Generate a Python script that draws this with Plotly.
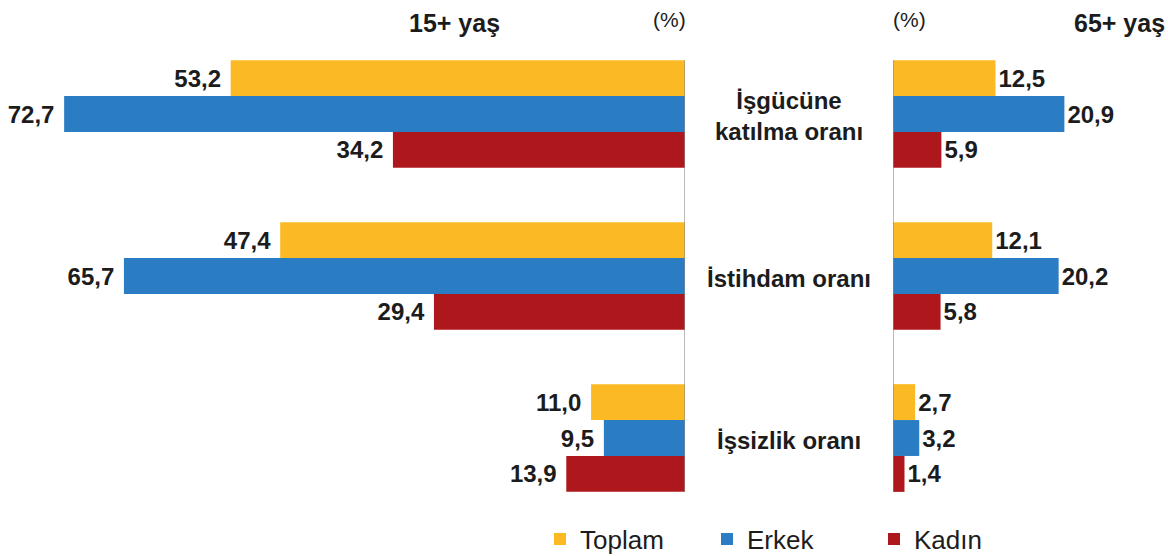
import plotly.graph_objects as go

W, H = 1168, 556

categories = ["İşgücüne<br>katılma oranı", "İstihdam oranı", "İşsizlik oranı"]
series_names = ["Toplam", "Erkek", "Kadın"]
series_colors = ["#FBBA24", "#2A7DC3", "#AE181C"]

age15_toplam = [53.2, 47.4, 11.0]
age15_erkek = [72.7, 65.7, 9.5]
age15_kadin = [34.2, 29.4, 13.9]

age65_toplam = [12.5, 12.1, 2.7]
age65_erkek = [20.9, 20.2, 3.2]
age65_kadin = [5.9, 5.8, 1.4]

left_vals = [age15_toplam, age15_erkek, age15_kadin]
right_vals = [age65_toplam, age65_erkek, age65_kadin]


def fmt(v):
    return f"{v:.1f}".replace(".", ",")


FONT = "Liberation Sans, Arial, sans-serif"
TXT = "#1c1c1c"
VAL_SIZE = 24
BARGAP = 0.335

fig = go.Figure()
for name, col, vals in zip(series_names, series_colors, left_vals):
    fig.add_trace(go.Bar(
        y=categories, x=vals, orientation="h", name=name,
        marker=dict(color=col, line=dict(width=0)),
        text=[fmt(v) + "\u00a0" for v in vals], textposition="outside",
        textfont=dict(family=FONT, size=VAL_SIZE, color=TXT, weight="bold"),
        cliponaxis=False, constraintext="none", hoverinfo="skip",
        xaxis="x", yaxis="y", legendgroup=name, showlegend=True,
    ))
for name, col, vals in zip(series_names, series_colors, right_vals):
    fig.add_trace(go.Bar(
        y=categories, x=vals, orientation="h", name=name,
        marker=dict(color=col, line=dict(width=0)),
        text=[fmt(v) for v in vals], textposition="outside",
        textfont=dict(family=FONT, size=VAL_SIZE, color=TXT, weight="bold"),
        cliponaxis=False, constraintext="none", hoverinfo="skip",
        xaxis="x2", yaxis="y2", legendgroup=name, showlegend=False,
    ))

left_px, right_px = 685, 893
ydom = [1 - 519 / H, 1 - 33 / H]

fig.update_layout(
    width=W, height=H,
    margin=dict(l=0, r=0, t=0, b=0, autoexpand=False),
    paper_bgcolor="white", plot_bgcolor="white",
    barmode="group", bargap=BARGAP, bargroupgap=0,
    font=dict(family=FONT, color=TXT),
    xaxis=dict(domain=[0, left_px / W], range=[left_px / 8.54, 0],
               visible=False, fixedrange=True),
    xaxis2=dict(domain=[right_px / W, 1], range=[0, (W - right_px) / 8.2],
                visible=False, anchor="y2", fixedrange=True),
    yaxis=dict(domain=ydom, autorange="reversed", visible=False, anchor="x", fixedrange=True),
    yaxis2=dict(domain=ydom, matches="y", visible=False, anchor="x2", fixedrange=True),
    legend=dict(orientation="h", x=540 / W, xanchor="left", y=1 - 539 / H, yanchor="middle",
                font=dict(family=FONT, size=26, color=TXT),
                entrywidth=122, traceorder="normal", itemwidth=30,
                bgcolor="rgba(0,0,0,0)"),
    showlegend=True,
)

# vertical axis lines at zero
y_top = -0.5 + BARGAP / 2
y_bot = len(categories) - 0.5 - BARGAP / 2
for xr, yr in (("x", "y"), ("x2", "y2")):
    fig.add_shape(type="line", xref=xr, yref=yr, x0=0, x1=0, y0=y_top, y1=y_bot,
                  line=dict(color="#8a8a8a", width=1.2))

# category labels
for c in categories:
    fig.add_annotation(x=(left_px + right_px) / 2 / W, xref="paper", y=c, yref="y",
                       xanchor="center", yanchor="middle", yshift=-2,
                       text=c, showarrow=False,
                       font=dict(family=FONT, size=24, color=TXT, weight="bold"))

# titles
fig.add_annotation(x=454 / W, y=1 - 23 / H, xref="paper", yref="paper", text="15+ yaş",
                   xanchor="center", yanchor="middle", showarrow=False,
                   font=dict(family=FONT, size=25, color=TXT, weight="bold"))
fig.add_annotation(x=1167 / W, y=1 - 23 / H, xref="paper", yref="paper", text="65+ yaş",
                   xanchor="right", yanchor="middle", showarrow=False,
                   font=dict(family=FONT, size=25, color=TXT, weight="bold"))
fig.add_annotation(x=669 / W, y=1 - 19 / H, xref="paper", yref="paper", text="(%)",
                   xanchor="center", yanchor="middle",
                   showarrow=False, font=dict(family=FONT, size=21, color=TXT))
fig.add_annotation(x=909 / W, y=1 - 19 / H, xref="paper", yref="paper", text="(%)",
                   xanchor="center", yanchor="middle",
                   showarrow=False, font=dict(family=FONT, size=21, color=TXT))

fig.write_html("out.html", config={"displayModeBar": False, "staticPlot": True},
               post_script="document.body.style.margin='0';")
